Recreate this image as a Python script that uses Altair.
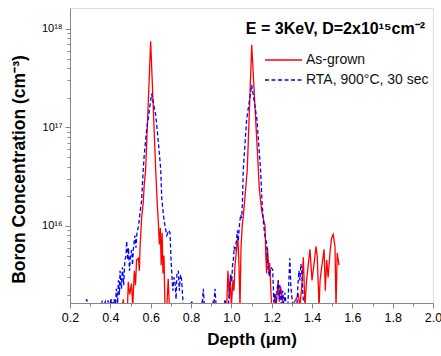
import altair as alt
import pandas as pd

FONT = "Liberation Sans"

series_names = ["As-grown", "RTA, 900°C, 30 sec"]
series_colors = ["#ff0000", "#0000ff"]
title_text = "E = 3KeV, D=2x10¹⁵cm⁻²"

red_depth = [
    0.20, 0.40, 0.402, 0.405, 0.46, 0.464, 0.468, 0.485, 0.489, 0.496,
    0.505, 0.511, 0.519, 0.525, 0.530, 0.539, 0.544, 0.547, 0.555, 0.563,
    0.568, 0.575, 0.600, 0.625, 0.633, 0.638, 0.643, 0.648, 0.652, 0.657,
    0.661, 0.666, 0.671, 0.680, 0.687, 0.693, 0.852, 0.856, 0.860, 0.906,
    0.910, 0.915, 0.964, 0.968, 0.972, 0.977, 0.983, 0.990, 0.995, 1.000,
    1.008, 1.013, 1.018, 1.026, 1.032, 1.038, 1.043, 1.048, 1.054, 1.060,
    1.066, 1.079, 1.101, 1.134, 1.139, 1.145, 1.150, 1.158, 1.167, 1.171,
    1.175, 1.179, 1.183, 1.187, 1.190, 1.195, 1.200, 1.208, 1.216, 1.222,
    1.228, 1.233, 1.238, 1.245, 1.250, 1.256, 1.300, 1.332, 1.340, 1.349,
    1.357, 1.365, 1.373, 1.390, 1.400, 1.406, 1.420, 1.426, 1.435, 1.440,
    1.448, 1.460, 1.466, 1.473, 1.480, 1.489, 1.497, 1.505, 1.514, 1.519,
    1.525, 1.534,
]
red_conc = [
    1.5e15, 1.5e15, 1.8e15, 1.5e15, 1.5e15, 1.8e15, 1.5e15, 1.5e15, 2.7e15, 2.0e15,
    2.6e15, 1.5e15, 3.5e15, 2.5e15, 4.5e15, 4.7e15, 3.5e15, 5.8e15, 1.2e16, 1.7e16,
    2.6e16, 3.7e16, 7.5e17, 3.7e16, 1.6e16, 1.1e16, 6.5e15, 9.5e15, 4.0e15, 8.5e15,
    3.3e15, 5.0e15, 1.5e15, 1.5e15, 2.9e15, 1.5e15, 1.5e15, 1.75e15, 1.5e15, 1.5e15,
    1.75e15, 1.5e15, 1.5e15, 1.75e15, 1.5e15, 1.5e15, 3.5e15, 1.8e15, 3.2e15, 1.5e15,
    2.8e15, 2.2e15, 4.0e15, 5.8e15, 8.0e15, 4.0e15, 1.5e15, 6.0e15, 1.0e16, 1.3e16,
    1.8e16, 3.7e16, 6.9e17, 3.7e16, 2.35e16, 1.8e16, 1.45e16, 1.2e16, 1.0e16, 5.0e15,
    3.3e15, 6.0e15, 4.5e15, 3.2e15, 4.2e15, 2.5e15, 1.5e15, 1.5e15, 1.9e15, 1.5e15,
    2.2e15, 2.8e15, 1.7e15, 2.4e15, 2.0e15, 1.5e15, 1.5e15, 2.0e15, 1.5e15, 2.4e15,
    4.8e15, 1.5e15, 2.8e15, 5.8e15, 2.8e15, 3.5e15, 6.2e15, 4.9e15, 1.5e15, 2.8e15,
    3.8e15, 5.8e15, 2.2e15, 4.5e15, 3.0e15, 5.3e15, 7.5e15, 8.2e15, 6.2e15, 1.5e15,
    5.3e15, 4.0e15,
]

blue_depth = [
    0.270, 0.283, 0.290, 0.355, 0.360, 0.365, 0.375, 0.380, 0.390, 0.395,
    0.405, 0.410, 0.418, 0.425, 0.430, 0.436, 0.440, 0.445, 0.448, 0.455,
    0.460, 0.466, 0.472, 0.478, 0.481, 0.486, 0.490, 0.495, 0.500, 0.506,
    0.510, 0.515, 0.522, 0.527, 0.532, 0.540, 0.547, 0.555, 0.563, 0.568,
    0.580, 0.605, 0.626, 0.643, 0.650, 0.655, 0.665, 0.671, 0.680, 0.690,
    0.696, 0.700, 0.704, 0.710, 0.715, 0.720, 0.726, 0.730, 0.737, 0.742,
    0.748, 0.754, 0.758, 0.762, 0.800, 0.803, 0.808, 0.855, 0.861, 0.867,
    0.913, 0.919, 0.925, 0.963, 0.968, 0.975, 0.985, 0.993, 0.998, 1.002,
    1.006, 1.010, 1.014, 1.018, 1.025, 1.030, 1.034, 1.040, 1.046, 1.051,
    1.055, 1.059, 1.076, 1.101, 1.127, 1.145, 1.152, 1.158, 1.166, 1.175,
    1.180, 1.183, 1.190, 1.196, 1.205, 1.211, 1.216, 1.222, 1.228, 1.233,
    1.238, 1.241, 1.247, 1.255, 1.260, 1.266, 1.272, 1.280, 1.286, 1.290,
    1.295, 1.300, 1.306, 1.325, 1.330, 1.335, 1.340, 1.345, 1.350, 1.355,
    1.360,
]
blue_conc = [
    1.5e15, 1.8e15, 1.5e15, 1.5e15, 1.75e15, 1.5e15, 1.7e15, 1.5e15, 1.75e15, 1.5e15,
    1.8e15, 1.5e15, 1.8e15, 1.6e15, 2.3e15, 1.6e15, 2.8e15, 2.0e15, 3.5e15, 2.3e15,
    3.8e15, 2.5e15, 4.5e15, 5.0e15, 7.0e15, 4.5e15, 6.0e15, 3.5e15, 5.0e15, 5.7e15,
    4.0e15, 6.0e15, 8.0e15, 6.0e15, 8.5e15, 1.0e16, 1.35e16, 1.8e16, 3.7e16, 5.2e16,
    9.5e16, 2.2e17, 1.3e17, 5.5e16, 3.7e16, 1.9e16, 1.2e16, 1.0e16, 8.0e15, 9.0e15,
    8.5e15, 5.0e15, 3.5e15, 2.2e15, 3.0e15, 2.8e15, 1.8e15, 3.2e15, 3.5e15, 2.2e15,
    3.2e15, 2.8e15, 2.0e15, 1.5e15, 1.5e15, 1.75e15, 1.5e15, 1.5e15, 2.3e15, 1.5e15,
    1.5e15, 2.3e15, 1.5e15, 1.5e15, 1.75e15, 1.5e15, 1.5e15, 2.5e15, 3.2e15, 2.7e15,
    4.0e15, 4.5e15, 6.0e15, 5.8e15, 7.0e15, 9.0e15, 7.0e15, 1.0e16, 1.3e16, 1.2e16,
    1.7e16, 3.7e16, 1.2e17, 2.7e17, 1.2e17, 3.7e16, 1.8e16, 1.15e16, 8.0e15, 6.7e15,
    4.5e15, 3.6e15, 3.1e15, 3.8e15, 3.6e15, 1.7e15, 2.1e15, 1.6e15, 2.4e15, 2.8e15,
    1.8e15, 2.5e15, 1.6e15, 2.2e15, 1.6e15, 2.1e15, 1.5e15, 1.5e15, 3.0e15, 4.7e15,
    2.5e15, 1.9e15, 1.5e15, 1.5e15, 2.5e15, 3.5e15, 2.8e15, 4.1e15, 3.3e15, 2.0e15,
    1.5e15,
]

x_major = [0.2, 0.4, 0.6, 0.8, 1.0, 1.2, 1.4, 1.6, 1.8, 2.0]
x_minor = [0.3, 0.5, 0.7, 0.9, 1.1, 1.3, 1.5, 1.7, 1.9]
y_major = [1e16, 1e17, 1e18]
y_minor = [m * 10 ** e for e in (15, 16, 17) for m in range(2, 10) if m * 10 ** e > 1.65e15]
x_domain = [0.2, 2.0]
y_domain = [1.65e15, 1.63e18]

red_df = pd.DataFrame({"depth": red_depth, "conc": red_conc})
blue_df = pd.DataFrame({"depth": blue_depth, "conc": blue_conc})

xs = alt.Scale(domain=x_domain, nice=False, zero=False)
ys = alt.Scale(type="log", domain=y_domain, nice=False)

label_expr = ("datum.value > 5e17 ? '10¹⁸' : datum.value > 5e16 ? '10¹⁷' : '10¹⁶'")

red_line = alt.Chart(red_df).mark_line(color=series_colors[0], strokeWidth=1.3, clip=True).encode(
    x=alt.X("depth:Q", scale=xs, axis=alt.Axis(
        orient="bottom", values=x_major, format=".1f", tickSize=5, labelPadding=3,
        labelFlush=False, labelOverlap=False,
        title="Depth (μm)", titleFontSize=17, titleFontWeight="bold", titlePadding=8,
        labelFontSize=12.5, labelFont=FONT, titleFont=FONT, grid=False)),
    y=alt.Y("conc:Q", scale=ys, axis=alt.Axis(
        orient="left", values=y_major, labelExpr=label_expr, tickSize=5, labelPadding=3,
        labelFlush=False, labelOverlap=False,
        title="Boron Concentration (cm⁻³)", titleFontSize=17.5, titleFontWeight="bold",
        titlePadding=13, titleY=161, labelFontSize=11, labelFont=FONT, titleFont=FONT,
        grid=False)),
)

blue_line = alt.Chart(blue_df).mark_line(color=series_colors[1], strokeWidth=1.3,
                                          strokeDash=[4, 2.5], clip=True).encode(
    x=alt.X("depth:Q", scale=xs, axis=alt.Axis(
        orient="bottom", values=x_minor, tickSize=3, labels=False, title=None,
        domain=False, grid=False)),
    y=alt.Y("conc:Q", scale=ys, axis=alt.Axis(
        orient="left", values=y_minor, tickSize=3, labels=False, title=None,
        domain=False, grid=False)),
)

legend_df = pd.DataFrame({"name": series_names, "color": series_colors})

leg_red = alt.Chart(legend_df.iloc[[0]]).mark_rule(color=series_colors[0], strokeWidth=1.3).encode(
    x=alt.value(195), x2=alt.value(232), y=alt.value(52))
leg_blue = alt.Chart(legend_df.iloc[[1]]).mark_rule(color=series_colors[1], strokeWidth=1.3,
                                                   strokeDash=[4, 2.5]).encode(
    x=alt.value(195), x2=alt.value(232), y=alt.value(72))
leg_text1 = alt.Chart(legend_df.iloc[[0]]).mark_text(
    align="left", baseline="middle", font=FONT, fontSize=14, color="#111").encode(
    x=alt.value(236), y=alt.value(52), text="name:N")
leg_text2 = alt.Chart(legend_df.iloc[[1]]).mark_text(
    align="left", baseline="middle", font=FONT, fontSize=14, color="#111").encode(
    x=alt.value(236), y=alt.value(72), text="name:N")

title_df = pd.DataFrame({"t": [title_text]})
title_mark = alt.Chart(title_df).mark_text(
    align="right", baseline="middle", font=FONT, fontSize=16, fontWeight="bold",
    color="#000").encode(x=alt.value(355), y=alt.value(21), text="t:N")

chart = alt.layer(
    red_line, blue_line, leg_red, leg_blue, leg_text1, leg_text2, title_mark
).resolve_axis(x="independent", y="independent").resolve_scale(
    x="shared", y="shared"
).properties(
    width=363, height=295,
    padding={"left": 70, "top": 8, "right": 8, "bottom": 53},
    autosize=alt.AutoSizeParams(type="none"),
).configure_view(stroke="#222", strokeWidth=1).configure_axis(
    domainColor="#222", tickColor="#222", labelColor="#222", titleColor="#000"
).configure(background="white")

chart.save("out.html", embed_options={"renderer": "svg", "actions": False})
